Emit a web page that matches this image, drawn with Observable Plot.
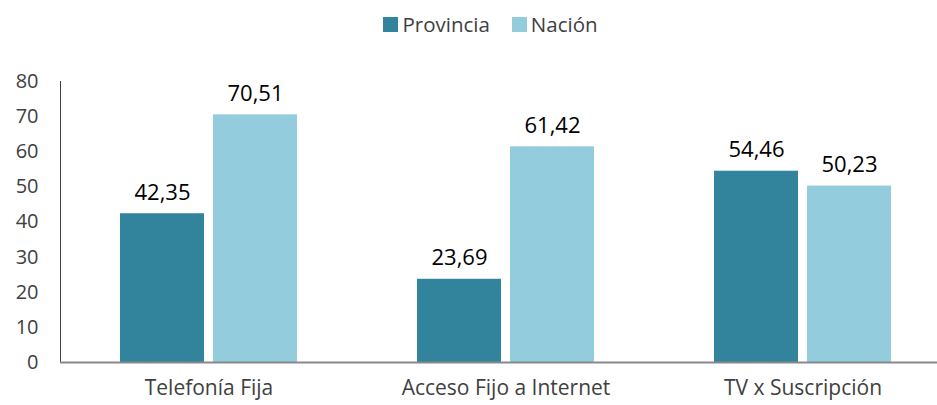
<!DOCTYPE html>
<html><head><meta charset="utf-8">
<script src="https://cdn.jsdelivr.net/npm/d3@7"></script>
<script src="https://cdn.jsdelivr.net/npm/@observablehq/plot@0.6"></script>
<style>
body{margin:0;background:#fff;}
#wrap{position:relative;width:937px;height:405px;overflow:hidden;font-family:"Open Sans",sans-serif;}
#legend{position:absolute;top:10px;left:0;width:937px;display:flex;justify-content:center;gap:22px;font-size:20.5px;color:#404040;padding-left:44px;box-sizing:border-box}
#legend span{display:flex;align-items:center;}
#legend i{display:inline-block;width:15px;height:15px;margin-right:4px;}
svg{position:absolute;top:0;left:0;}
</style></head>
<body><div id="wrap"><div id="legend"></div></div>
<script>
const categories = ["Telefonía Fija", "Acceso Fijo a Internet", "TV x Suscripción"];
const series = ["Provincia", "Nación"];
const provincia = [42.35, 23.69, 54.46];
const nacion = [70.51, 61.42, 50.23];
const yTicks = [0, 10, 20, 30, 40, 50, 60, 70, 80];
const colors = ["#31849B", "#93CDDD"];

const data = [];
categories.forEach((c, i) => {
  data.push({cat: c, serie: "Provincia", value: provincia[i]});
  data.push({cat: c, serie: "Nación", value: nacion[i]});
});
const fmt = v => v.toFixed(2).replace(".", ",");

const lg = document.getElementById("legend");
series.forEach((s, i) => {
  const sp = document.createElement("span");
  sp.innerHTML = `<i style="background:${colors[i]}"></i>${s}`;
  lg.appendChild(sp);
});

const chart = Plot.plot({
  width: 937, height: 405,
  marginTop: 81, marginBottom: 43, marginLeft: 59, marginRight: -14,
  style: {fontFamily: "Open Sans, sans-serif", fontSize: "20px", color: "#404040", background: "transparent"},
  fx: {domain: categories, padding: 0, label: null, axis: null},
  x: {domain: series, paddingInner: 0.1, paddingOuter: 0.64, axis: null},
  y: {domain: [0, 80], ticks: yTicks, tickSize: 0, tickPadding: 22, line: true, label: null},
  color: {domain: series, range: colors},
  marks: [
    Plot.barY(data, {fx: "cat", x: "serie", y: "value", fill: "serie"}),
    Plot.text(data, {fx: "cat", x: "serie", y: "value", text: d => fmt(d.value), lineAnchor: "bottom", dy: -14, fontSize: 22, fill: "#000"}),
    Plot.axisFx({anchor: "bottom", tickSize: 0, tickPadding: 18, fontSize: 21, fill: "#404040", label: null}),
    Plot.ruleY([0], {stroke: "#898989", strokeWidth: 2})
  ]
});
chart.querySelectorAll('[aria-label="y-axis line"], [aria-label="y-axis tick"]').forEach(e => e.setAttribute("stroke", "#898989"));
document.getElementById("wrap").appendChild(chart);
</script></body></html>
